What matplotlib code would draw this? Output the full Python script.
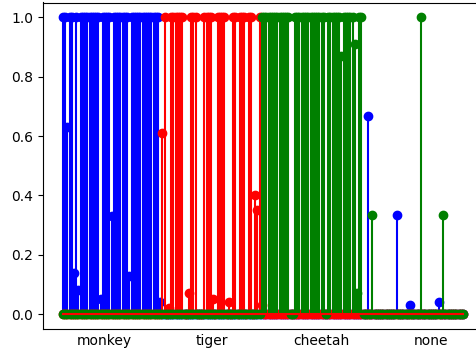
import matplotlib
matplotlib.use("Agg")
import matplotlib.pyplot as plt
import numpy as np

# Per-sample scores for each class
monkey_scores = [
    1, 1, 0.63, 1, 1, 0.14, 1, 0.08, 1, 1, 1, 1, 1, 1, 1, 1, 1, 0.05, 1, 1,
    1, 1, 0.33, 1, 1, 1, 1, 1, 1, 1, 0.13, 1, 1, 1, 1, 1, 1, 1, 1, 1,
    1, 1, 1, 1, 0.04, 0, 0, 0, 0, 0, 0, 0, 0, 0, 0, 0, 0, 0, 0, 0,
    0, 0, 0, 0, 0, 0, 0, 0, 0, 0, 0, 0, 0, 0, 0, 0, 0, 0, 0, 0,
    0, 0, 0, 0, 0, 0, 0, 0, 0, 0, 0, 0, 0, 0, 0, 0, 0, 0, 0, 0,
    0, 0, 0, 0, 0, 0, 0, 0, 0, 0, 0, 0, 0, 0, 0, 0, 0, 0, 0, 0,
    0, 0, 0, 0, 0, 0, 0, 0, 0, 0, 0, 0, 0, 0, 0, 0, 0, 0, 0.667, 0,
    0, 0, 0, 0, 0, 0, 0, 0, 0, 0, 0, 0.333, 0, 0, 0, 0, 0, 0.03, 0, 0,
    0, 0, 0, 0, 0, 0, 0, 0, 0, 0, 0.04, 0, 0, 0, 0, 0, 0, 0, 0, 0,
    0, 0,
]
tiger_scores = [
    0, 0, 0, 0, 0, 0, 0, 0, 0, 0, 0, 0, 0, 0, 0, 0, 0, 0, 0, 0,
    0, 0, 0, 0, 0, 0, 0, 0, 0, 0, 0, 0, 0, 0, 0, 0, 0, 0, 0, 0,
    0, 0, 0, 0, 0, 0.61, 1, 0, 0.02, 1, 1, 1, 1, 1, 1, 0, 0, 0.07, 1, 1,
    1, 0, 0, 0, 1, 1, 1, 1, 0.05, 0, 1, 1, 1, 1, 0, 0.04, 0, 1, 1, 0,
    1, 1, 1, 0, 1, 1, 0, 0.40, 0.35, 1, 0.03, 0, 0, 0, 0, 0, 0, 0, 0, 0,
    0, 0, 0, 0, 0, 0, 0, 0, 0, 0, 0, 0, 0, 0, 0, 0, 0, 0, 0, 0,
    0, 0, 0, 0, 0, 0, 0, 0, 0, 0, 0, 0, 0, 0, 0, 0, 0, 0, 0, 0,
    0, 0, 0, 0, 0, 0, 0, 0, 0, 0, 0, 0, 0, 0, 0, 0, 0, 0, 0, 0,
    0, 0, 0, 0, 0, 0, 0, 0, 0, 0, 0, 0, 0, 0, 0, 0, 0, 0, 0, 0,
    0, 0,
]
cheetah_scores = [
    0, 0, 0, 0, 0, 0, 0, 0, 0, 0, 0, 0, 0, 0, 0, 0, 0, 0, 0, 0,
    0, 0, 0, 0, 0, 0, 0, 0, 0, 0, 0, 0, 0, 0, 0, 0, 0, 0, 0, 0,
    0, 0, 0, 0, 0, 0, 0, 0, 0, 0, 0, 0, 0, 0, 0, 0, 0, 0, 0, 0,
    0, 0, 0, 0, 0, 0, 0, 0, 0, 0, 0, 0, 0, 0, 0, 0, 0, 0, 0, 0,
    0, 0, 0, 0, 0, 0, 0, 0, 0, 0, 1, 1, 1, 1, 1, 1, 1, 1, 1, 1,
    1, 1, 1, 0, 0, 1, 1, 1, 1, 1, 1, 1, 1, 1, 1, 1, 1, 1, 1, 0,
    1, 1, 1, 1, 1, 1, 0.87, 1, 1, 1, 1, 1, 0.91, 0.07, 1, 1, 0, 0, 0, 0,
    0.333, 0, 0, 0, 0, 0, 0, 0, 0, 0, 0, 0, 0, 0, 0, 0, 0, 0, 0, 0,
    0, 0, 1.0, 0, 0, 0, 0, 0, 0, 0, 0, 0, 0.333, 0, 0, 0, 0, 0, 0, 0,
    0, 0,
]
class_names = ["monkey", "tiger", "cheetah", "none"]
class_tick_pos = [18.6, 67.4, 116.7, 166.4]

x = np.arange(len(monkey_scores))

fig = plt.figure(figsize=(4.77, 3.51), dpi=100)
ax = fig.add_axes([43 / 477, 22 / 351, 440 / 477, 326.5 / 351])

ax.stem(x, monkey_scores, linefmt="b-", markerfmt="bo", basefmt="r-")
ax.stem(x, tiger_scores, linefmt="r-", markerfmt="ro", basefmt="r-")
ax.stem(x, cheetah_scores, linefmt="g-", markerfmt="go", basefmt="r-")

ax.set_xticks(class_tick_pos)
ax.set_xticklabels(class_names)
ax.tick_params(axis="x", length=0)

fig.savefig("out.png", dpi=100)
